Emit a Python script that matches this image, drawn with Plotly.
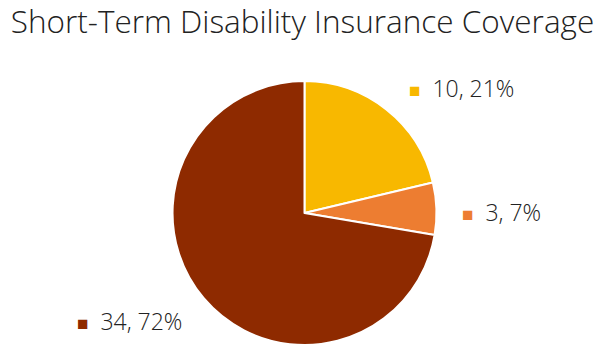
import plotly.graph_objects as go

categories = ["Yes", "Partial", "No"]
values = [10, 3, 34]
colors = ["#F8B800", "#ED7D31", "#8E2A00"]
label_pos = [(0.672, 0.745), (0.760, 0.385), (0.124, 0.07)]

total = sum(values)
# largest-remainder rounding so percentages sum to 100
raw = [v / total * 100 for v in values]
pcts = [int(r) for r in raw]
order = sorted(range(len(raw)), key=lambda i: raw[i] - pcts[i], reverse=True)
for i in order[: 100 - sum(pcts)]:
    pcts[i] += 1

fig = go.Figure(go.Pie(
    labels=categories, values=values, sort=False, direction="clockwise", rotation=0,
    marker=dict(colors=colors, line=dict(color="white", width=2)),
    textinfo="none", hoverinfo="label+value+percent",
    domain=dict(x=[0.2033, 0.8033], y=[0.0, 0.765]),
    showlegend=False,
))

for v, p, c, (x, y) in zip(values, pcts, colors, label_pos):
    fig.add_annotation(
        x=x, y=y, xref="paper", yref="paper", xanchor="left", yanchor="middle",
        showarrow=False,
        text=f"<span style='color:{c};font-size:19px'>■</span>  {v}, {p}%",
        font=dict(family="Open Sans, sans-serif", size=23, color="#222222", weight=300),
    )

fig.update_layout(
    width=605, height=345,
    margin=dict(l=0, r=0, t=0, b=0),
    paper_bgcolor="white", plot_bgcolor="white",
    title=dict(text="Short-Term Disability Insurance Coverage", x=0.5, xanchor="center",
               y=0.935, yanchor="middle",
               font=dict(family="Open Sans, sans-serif", size=31.5, color="#222222", weight=300)),
)
fig.write_html("out.html")
